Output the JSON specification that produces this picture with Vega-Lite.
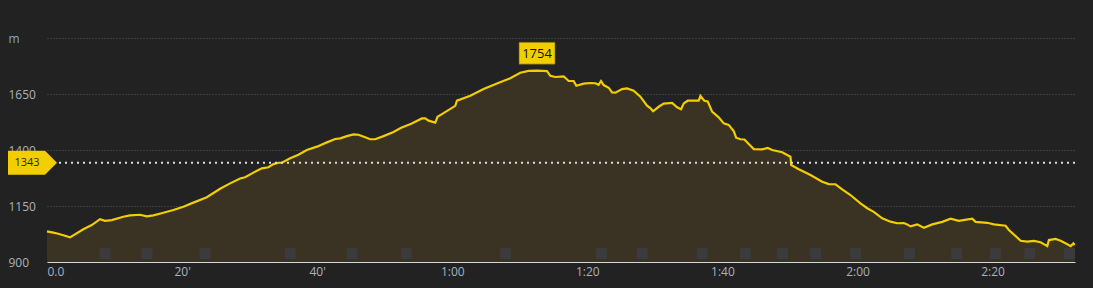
{
  "$schema": "https://vega.github.io/schema/vega-lite/v6.json",
  "autosize": "none",
  "width": 1028,
  "height": 224,
  "padding": {"left": 47, "top": 38, "right": 18, "bottom": 26},
  "background": "#222222",
  "config": {
    "view": {"stroke": null},
    "font": "Open Sans",
    "axis": {"labelFont": "Open Sans", "labelFontSize": 12, "labelColor": "#a9b1ba"}
  },
  "datasets": {
    "profile": [
      {"t": 0, "e": 1037}, {"t": 0.93, "e": 1031}, {"t": 1.67, "e": 1026}, {"t": 3.41, "e": 1010},
      {"t": 5.38, "e": 1046}, {"t": 6.62, "e": 1065}, {"t": 7.85, "e": 1091}, {"t": 8.59, "e": 1084},
      {"t": 9.59, "e": 1087}, {"t": 11.3, "e": 1102}, {"t": 12.3, "e": 1108}, {"t": 13.78, "e": 1111},
      {"t": 14.77, "e": 1104}, {"t": 15.75, "e": 1108}, {"t": 17.23, "e": 1120}, {"t": 18.71, "e": 1132},
      {"t": 20.19, "e": 1147}, {"t": 21.67, "e": 1165}, {"t": 23.66, "e": 1189}, {"t": 25.63, "e": 1227},
      {"t": 27.11, "e": 1251}, {"t": 28.59, "e": 1273}, {"t": 29.33, "e": 1278}, {"t": 30.56, "e": 1299},
      {"t": 31.81, "e": 1318}, {"t": 32.79, "e": 1323}, {"t": 33.53, "e": 1337}, {"t": 34.27, "e": 1343},
      {"t": 34.77, "e": 1343}, {"t": 36.0, "e": 1363}, {"t": 37.23, "e": 1379}, {"t": 38.47, "e": 1400},
      {"t": 39.96, "e": 1415}, {"t": 41.44, "e": 1434}, {"t": 42.67, "e": 1449}, {"t": 43.41, "e": 1452},
      {"t": 44.4, "e": 1462}, {"t": 45.38, "e": 1470}, {"t": 46.12, "e": 1468}, {"t": 47.11, "e": 1457},
      {"t": 47.85, "e": 1448}, {"t": 48.59, "e": 1448}, {"t": 49.82, "e": 1462}, {"t": 51.3, "e": 1480},
      {"t": 52.44, "e": 1499}, {"t": 53.93, "e": 1517}, {"t": 55.51, "e": 1541}, {"t": 56.0, "e": 1541},
      {"t": 56.49, "e": 1531}, {"t": 57.48, "e": 1522}, {"t": 57.82, "e": 1548}, {"t": 58.47, "e": 1560},
      {"t": 60.44, "e": 1597}, {"t": 60.7, "e": 1620}, {"t": 62.67, "e": 1642}, {"t": 64.64, "e": 1672},
      {"t": 66.62, "e": 1697}, {"t": 68.59, "e": 1720}, {"t": 70.07, "e": 1745}, {"t": 71.3, "e": 1753},
      {"t": 72.55, "e": 1754}, {"t": 74.03, "e": 1752}, {"t": 74.52, "e": 1731}, {"t": 75.26, "e": 1726},
      {"t": 76.49, "e": 1729}, {"t": 77.23, "e": 1708}, {"t": 77.97, "e": 1708}, {"t": 78.37, "e": 1687},
      {"t": 79.45, "e": 1696}, {"t": 80.44, "e": 1699}, {"t": 81.19, "e": 1698}, {"t": 81.67, "e": 1691},
      {"t": 82.03, "e": 1708}, {"t": 82.41, "e": 1690}, {"t": 83.16, "e": 1678}, {"t": 83.66, "e": 1657},
      {"t": 84.15, "e": 1656}, {"t": 85.14, "e": 1672}, {"t": 85.88, "e": 1675}, {"t": 86.86, "e": 1665},
      {"t": 87.85, "e": 1638}, {"t": 88.84, "e": 1598}, {"t": 89.33, "e": 1587}, {"t": 89.73, "e": 1573},
      {"t": 90.56, "e": 1593}, {"t": 91.3, "e": 1607}, {"t": 92.55, "e": 1610}, {"t": 93.29, "e": 1591},
      {"t": 93.88, "e": 1582}, {"t": 94.27, "e": 1608}, {"t": 94.86, "e": 1620}, {"t": 96.49, "e": 1620},
      {"t": 96.74, "e": 1641}, {"t": 97.33, "e": 1620}, {"t": 97.82, "e": 1617}, {"t": 98.47, "e": 1571},
      {"t": 99.45, "e": 1546}, {"t": 100.19, "e": 1519}, {"t": 100.93, "e": 1512}, {"t": 101.67, "e": 1485},
      {"t": 102.03, "e": 1455}, {"t": 102.67, "e": 1448}, {"t": 103.26, "e": 1447}, {"t": 103.9, "e": 1427},
      {"t": 104.64, "e": 1404}, {"t": 105.88, "e": 1403}, {"t": 106.71, "e": 1409}, {"t": 107.36, "e": 1400},
      {"t": 108.84, "e": 1390}, {"t": 110.07, "e": 1370}, {"t": 110.18, "e": 1333}, {"t": 111.3, "e": 1314},
      {"t": 113.04, "e": 1288}, {"t": 114.77, "e": 1258}, {"t": 115.75, "e": 1248}, {"t": 116.74, "e": 1247},
      {"t": 117.73, "e": 1224}, {"t": 118.96, "e": 1199}, {"t": 120.44, "e": 1162}, {"t": 121.44, "e": 1140},
      {"t": 122.41, "e": 1124}, {"t": 123.66, "e": 1095}, {"t": 124.89, "e": 1080}, {"t": 125.88, "e": 1073},
      {"t": 126.86, "e": 1074}, {"t": 127.36, "e": 1068}, {"t": 127.85, "e": 1059}, {"t": 128.84, "e": 1068},
      {"t": 129.82, "e": 1053}, {"t": 131.07, "e": 1068}, {"t": 132.55, "e": 1079}, {"t": 133.78, "e": 1093},
      {"t": 135.0, "e": 1084}, {"t": 136.99, "e": 1093}, {"t": 137.48, "e": 1079}, {"t": 139.21, "e": 1075},
      {"t": 140.19, "e": 1068}, {"t": 141.93, "e": 1062}, {"t": 142.41, "e": 1043}, {"t": 144.15, "e": 995},
      {"t": 145.14, "e": 991}, {"t": 146.12, "e": 994}, {"t": 147.11, "e": 988}, {"t": 148.1, "e": 971},
      {"t": 148.34, "e": 998}, {"t": 149.33, "e": 1003}, {"t": 150.07, "e": 995}, {"t": 151.07, "e": 979},
      {"t": 151.56, "e": 971}, {"t": 151.96, "e": 983}, {"t": 152.15, "e": 976}
    ],
    "waypoints": [
      {"t": 8.6}, {"t": 14.8}, {"t": 23.4}, {"t": 36.0}, {"t": 45.2}, {"t": 53.2}, {"t": 67.9},
      {"t": 82.1}, {"t": 88.1}, {"t": 97.0}, {"t": 103.4}, {"t": 108.9}, {"t": 113.8}, {"t": 119.7},
      {"t": 127.7}, {"t": 134.7}, {"t": 140.4}, {"t": 145.5}, {"t": 151.4}
    ],
    "average": [{"e": 1343}]
  },
  "layer": [
    {
      "data": {"name": "profile"},
      "mark": {"type": "area", "color": "#3a3222", "interpolate": "linear"},
      "encoding": {
        "x": {
          "field": "t", "type": "quantitative",
          "scale": {"domain": [0, 152.2], "nice": false, "zero": false},
          "axis": {
            "values": [0, 20, 40, 60, 80, 100, 120, 140],
            "title": null, "grid": false, "ticks": false,
            "domainColor": "#cdd8e3", "domainWidth": 1.2,
            "labelPadding": 4, "labelFlush": true,
            "labelExpr": "datum.value == 0 ? '0.0' : datum.value < 60 ? datum.value + \"'\" : floor(datum.value / 60) + ':' + (datum.value % 60 < 10 ? '0' : '') + (datum.value % 60)"
          }
        },
        "y": {
          "field": "e", "type": "quantitative",
          "scale": {"domain": [900, 1900], "nice": false, "zero": false},
          "axis": {
            "values": [900, 1150, 1400, 1650, 1900],
            "format": "d",
            "title": null, "domain": false, "ticks": false,
            "grid": true, "gridColor": "#5a5a5a", "gridDash": [1, 2], "gridWidth": 1,
            "labelAlign": "left", "labelPadding": 39, "labelBaseline": "middle",
            "labelColor": {"condition": {"test": "datum.value == 1900", "value": "#7fa7d4"}, "value": "#a9b1ba"},
            "labelExpr": "datum.value == 1900 ? 'm' : datum.label"
          }
        },
        "y2": {"datum": 900}
      }
    },
    {
      "data": {"name": "waypoints"},
      "mark": {"type": "point", "shape": "square", "filled": true, "size": 121, "color": "#3b3b3d", "opacity": 1},
      "encoding": {
        "x": {"field": "t", "type": "quantitative"},
        "y": {"datum": 938}
      }
    },
    {
      "data": {"name": "profile"},
      "mark": {"type": "line", "color": "#f2cd00", "strokeWidth": 2.2, "interpolate": "linear"},
      "encoding": {
        "x": {"field": "t", "type": "quantitative"},
        "y": {"field": "e", "type": "quantitative"}
      }
    },
    {
      "data": {"name": "average"},
      "mark": {"type": "rule", "color": "#dddddd", "strokeWidth": 2, "strokeDash": [2, 4]},
      "encoding": {
        "y": {"field": "e", "type": "quantitative"}
      }
    },
    {
      "data": {"name": "average"},
      "mark": {"type": "point", "filled": true, "color": "#f2cd00", "opacity": 1, "size": 2401, "xOffset": -14.5,
               "shape": "M-1,-0.49L0.51,-0.49L1,0L0.51,0.49L-1,0.49Z"},
      "encoding": {
        "x": {"datum": 0},
        "y": {"field": "e", "type": "quantitative"}
      }
    },
    {
      "data": {"name": "average"},
      "mark": {"type": "text", "color": "#2a2a10", "font": "Open Sans", "fontSize": 11, "align": "center", "baseline": "middle", "xOffset": -20},
      "encoding": {
        "x": {"datum": 0},
        "y": {"field": "e", "type": "quantitative"},
        "text": {"field": "e", "type": "quantitative", "format": "d"}
      }
    },
    {
      "data": {"name": "profile"},
      "transform": [
        {"joinaggregate": [{"op": "max", "field": "e", "as": "maxe"}]},
        {"filter": "datum.e == datum.maxe"}
      ],
      "layer": [
        {
          "mark": {"type": "point", "filled": true, "color": "#f2cd00", "opacity": 1, "size": 1296, "yOffset": -17.5,
                   "stroke": "#6b5a00", "strokeWidth": 0.6, "strokeOpacity": 1,
                   "shape": "M-1,-0.61L1,-0.61L1,0.61L-1,0.61Z"},
          "encoding": {
            "x": {"field": "t", "type": "quantitative"},
            "y": {"field": "e", "type": "quantitative"}
          }
        },
        {
          "mark": {"type": "text", "color": "#111111", "font": "Open Sans", "fontSize": 13, "align": "center", "baseline": "middle", "yOffset": -17},
          "encoding": {
            "x": {"field": "t", "type": "quantitative"},
            "y": {"field": "e", "type": "quantitative"},
            "text": {"field": "e", "type": "quantitative", "format": "d"}
          }
        }
      ]
    }
  ]
}
